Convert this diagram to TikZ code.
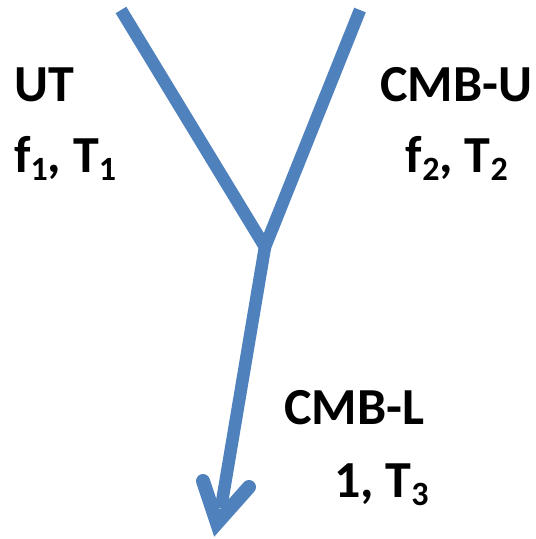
\documentclass[tikz,border=0pt]{standalone}
\usepackage{fontspec}
\setmainfont{Carlito}
\definecolor{flowblue}{HTML}{4F81BD}
\newcommand{\lbsub}[1]{\raisebox{-0.17em}{\fontsize{34}{34}\selectfont #1}}
\tikzset{
  lbl/.style={inner sep=0pt, font=\fontsize{52}{52}\selectfont\bfseries},
  stream/.style={draw=flowblue, line width=12.5pt},
  headv/.style={draw=flowblue, line width=14pt, line cap=round, line join=miter}
}
\begin{document}
\begin{tikzpicture}[x=1pt,y=-1pt]
\useasboundingbox (0,0) rectangle (536,539);
\coordinate (inL) at (121,10);
\coordinate (inR) at (360,10);
\coordinate (mix) at (265,247);
\coordinate (outE) at (221,508);
\coordinate (tip) at (217,523);
\coordinate (wingL) at (203,481);
\coordinate (wingR) at (249,487);
\draw[stream] (inL) -- (mix) -- (inR);
\draw[stream] (mix) -- (outE);
\draw[headv] (wingL) -- (tip) -- (wingR);
\node[lbl, anchor=base west] (ut) at (14,101) {UT};
\node[lbl, anchor=base west] (f1) at (14,172) {f\lbsub{1}, T\lbsub{1}};
\node[lbl, anchor=base west] (cmbu) at (380,101) {CMB-U};
\node[lbl, anchor=base east] (f2) at (508,172) {f\lbsub{2}, T\lbsub{2}};
\node[lbl, anchor=base west] (cmbl) at (284,424) {CMB-L};
\node[lbl, anchor=base west] (one) at (334,497) {1, T\lbsub{3}};
\end{tikzpicture}
\end{document}
